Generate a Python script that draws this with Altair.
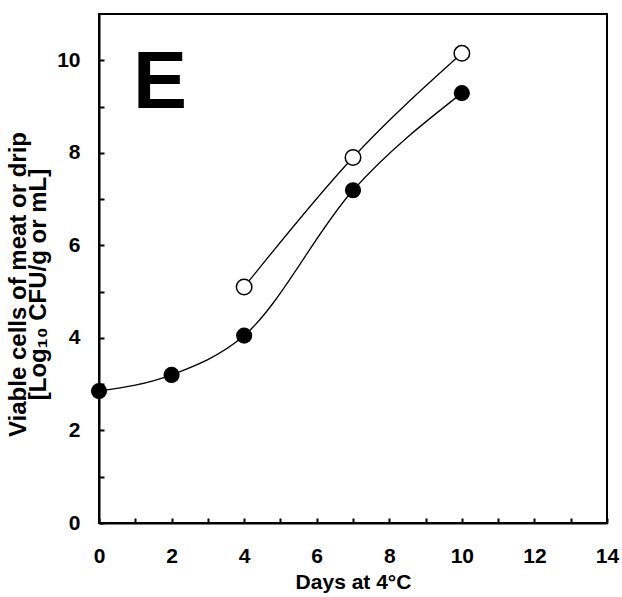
import altair as alt
import pandas as pd

# Data
days_filled = [0, 2, 4, 7, 10]
vals_filled = [2.85, 3.20, 4.05, 7.19, 9.29]
days_open = [4, 7, 10]
vals_open = [5.10, 7.90, 10.15]
x_ticks = list(range(0, 15))
y_ticks = list(range(0, 11))

df = pd.DataFrame({
    "day": days_filled + days_open,
    "val": vals_filled + vals_open,
    "series": ["filled"] * len(days_filled) + ["open"] * len(days_open),
})
label_df = pd.DataFrame({"day": [1.68], "val": [9.48], "txt": ["E"]})

FONT = "Liberation Sans"
xscale = alt.Scale(domain=[0, 14], nice=False, zero=False)
yscale = alt.Scale(domain=[0, 11.0], nice=False, zero=False)

x_main = alt.X("day:Q", scale=xscale,
               axis=alt.Axis(orient="bottom", values=x_ticks, ticks=False, labelFlush=False,
                             labelExpr="datum.value % 2 == 0 ? datum.label : ''",
                             grid=False, domainColor="black", domainWidth=2,
                             labelFont=FONT, labelFontSize=21, labelFontWeight="bold",
                             labelColor="black", labelPadding=22,
                             title="Days at 4°C", titleFont=FONT, titleFontSize=21,
                             titleFontWeight="bold", titleColor="black", titlePadding=5))
y_main = alt.Y("val:Q", scale=yscale,
               axis=alt.Axis(orient="left", values=y_ticks, ticks=False, labelFlush=False,
                             labelExpr="datum.value % 2 == 0 ? datum.label : ''",
                             grid=False, domainColor="black", domainWidth=2,
                             labelFont=FONT, labelFontSize=21, labelFontWeight="bold",
                             labelColor="black", labelPadding=19,
                             title=["Viable cells of meat or drip", "[Log₁₀ CFU/g or mL]"],
                             titleFont=FONT, titleFontSize=24, titleFontWeight="bold",
                             titleColor="black", titlePadding=6, titleLineHeight=20,
                             titleY=270))

base = alt.Chart(df)

line_f = base.transform_filter(alt.datum.series == "filled").mark_line(
    interpolate="monotone", color="black", strokeWidth=1.3
).encode(x=x_main, y=y_main)
line_o = base.transform_filter(alt.datum.series == "open").mark_line(
    interpolate="monotone", color="black", strokeWidth=1.3
).encode(x="day:Q", y="val:Q")
pts_f = base.transform_filter(alt.datum.series == "filled").mark_point(
    shape="circle", filled=True, size=260, color="black", opacity=1
).encode(x="day:Q", y="val:Q")
pts_o = base.transform_filter(alt.datum.series == "open").mark_point(
    shape="circle", filled=True, size=240, fill="white", stroke="black",
    strokeWidth=1.5, opacity=1
).encode(x="day:Q", y="val:Q")
letter = alt.Chart(label_df).mark_text(
    font=FONT, fontSize=81, fontWeight="bold", color="black",
    align="center", baseline="middle"
).encode(x="day:Q", y="val:Q", text="txt:N")

main = alt.layer(line_f, line_o, pts_f, pts_o, letter)

ticks = base.mark_point(opacity=0).encode(
    x=alt.X("day:Q", scale=xscale,
            axis=alt.Axis(orient="bottom", values=x_ticks, labels=False, domain=False,
                          grid=False, tickSize=5, tickWidth=2, tickColor="black",
                          offset=-5, title=None)),
    y=alt.Y("val:Q", scale=yscale,
            axis=alt.Axis(orient="left", values=y_ticks, labels=False, domain=False,
                          grid=False, tickSize=5, tickWidth=2, tickColor="black",
                          offset=-5, title=None)),
)

chart = alt.layer(main, ticks).resolve_axis(x="independent", y="independent").properties(
    width=508, height=509,
    autosize=alt.AutoSizeParams(type="none"),
    padding={"left": 99, "top": 14, "right": 15, "bottom": 74},
    background="white",
).configure_view(stroke="black", strokeWidth=2)

chart.save("out.html", embed_options={"renderer": "svg", "actions": False})
